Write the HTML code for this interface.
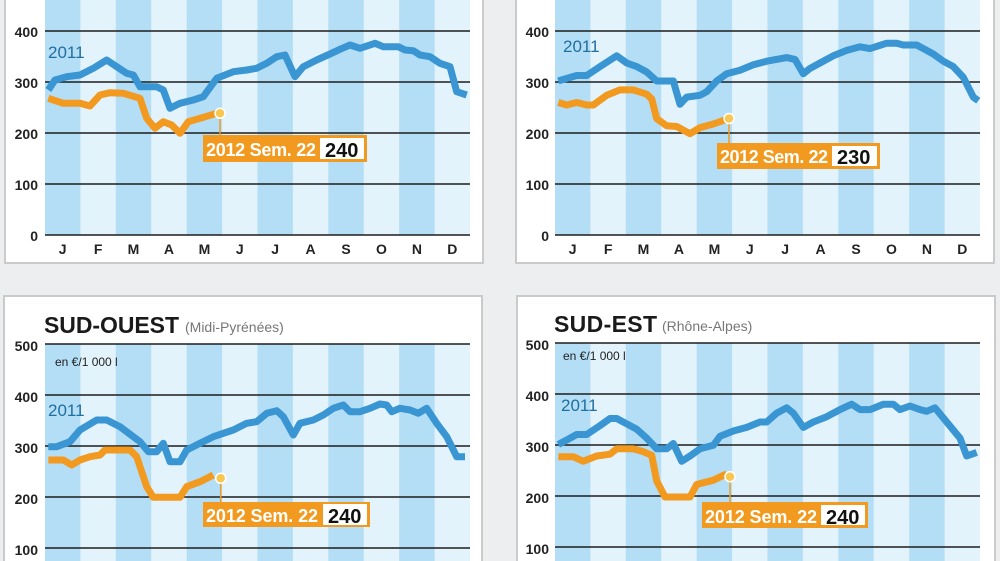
<!DOCTYPE html>
<html><head><meta charset="utf-8"><style>
html,body{margin:0;padding:0;width:1000px;height:561px;overflow:hidden;background:#edeef0;}
svg{display:block;font-family:"Liberation Sans",sans-serif;}
.tk{font-size:14px;font-weight:bold;fill:#222;text-anchor:end}
.mo{font-size:14px;font-weight:bold;fill:#222;text-anchor:middle}
.bl{fill:none;stroke:#3a95d3;stroke-width:7;stroke-linejoin:round}
.or{fill:none;stroke:#f29a1f;stroke-width:7;stroke-linejoin:round}
.g{stroke:#1d1d1d;stroke-width:1.6}
.lb{font-family:"Liberation Sans Narrow","Liberation Sans",sans-serif;font-weight:bold}
</style></head><body>
<svg width="1000" height="561" viewBox="0 0 1000 561">
<defs>
<g id="bands">
<rect x="0" y="0" width="425" height="600" fill="#e2f3fc"/>
<rect x="0" y="0" width="35.4" height="600" fill="#b4def5"/>
<rect x="70.8" y="0" width="35.4" height="600" fill="#b4def5"/>
<rect x="141.7" y="0" width="35.4" height="600" fill="#b4def5"/>
<rect x="212.5" y="0" width="35.4" height="600" fill="#b4def5"/>
<rect x="283.3" y="0" width="35.4" height="600" fill="#b4def5"/>
<rect x="354.2" y="0" width="35.4" height="600" fill="#b4def5"/>
</g>
<g id="months">
<text class="mo" x="62.7">J</text><text class="mo" x="98.1">F</text><text class="mo" x="133.5">M</text><text class="mo" x="168.9">A</text><text class="mo" x="204.4">M</text><text class="mo" x="239.8">J</text><text class="mo" x="275.2">J</text><text class="mo" x="310.6">A</text><text class="mo" x="346">S</text><text class="mo" x="381.5">O</text><text class="mo" x="416.9">N</text><text class="mo" x="452.3">D</text>
</g>
</defs>
<rect x="5" y="-10" width="478" height="273" fill="#fff" stroke="#c9cacc" stroke-width="2"/>
<rect x="516" y="-10" width="478" height="273" fill="#fff" stroke="#c9cacc" stroke-width="2"/>
<rect x="4" y="296" width="478" height="280" fill="#fff" stroke="#c9cacc" stroke-width="2"/>
<rect x="517" y="296" width="478" height="280" fill="#fff" stroke="#c9cacc" stroke-width="2"/>

<!-- TOP LEFT -->
<g transform="translate(45,0)"><svg width="425" height="235"><use href="#bands"/></svg></g>
<g class="g"><line x1="45" x2="470" y1="31" y2="31"/><line x1="45" x2="470" y1="82" y2="82"/><line x1="45" x2="470" y1="133" y2="133"/><line x1="45" x2="470" y1="184" y2="184"/><line x1="45" x2="470" y1="235" y2="235"/></g>
<text class="tk" x="38" y="37">400</text><text class="tk" x="38" y="88">300</text><text class="tk" x="38" y="139">200</text><text class="tk" x="38" y="190">100</text><text class="tk" x="38" y="241">0</text>
<g transform="translate(0,254)"><use href="#months"/></g>
<text x="48" y="58" font-size="17" fill="#1f6fa0">2011</text>
<polyline class="bl" points="48.3,90 55,80 66.7,76.7 80,75 93.3,68.3 106.7,60 116.7,66.7 126.7,73.3 133.3,75 140,86.7 156.7,86.7 163.3,90 170,108.3 180,103.3 193.3,100 203.3,96.7 216.7,78.3 233.3,71.7 246.7,70 256.7,68.3 266.7,63.3 276.7,56.7 285,55 295,76.7 303.3,66.7 316.7,60 330,54 340,49.3 350,45 360,48.3 375,43.3 383.3,46.7 398.3,46.7 405,50 413.3,50.7 420,55 430,56.7 440,63.3 450,66.7 456.7,91.7 466.7,95"/>
<polyline class="or" points="48.3,98.3 63.3,103.3 80,103.3 90,106 100,95 110,92.7 123.3,93.3 140,98.3 146.7,118.3 155,128.3 163.3,121.7 171.7,125 180,133.3 188.3,121.7 200,118.3 216.7,113.3"/>
<line x1="220" y1="113" x2="220" y2="136" stroke="#f29a1f" stroke-width="1.5"/>
<circle cx="220" cy="113.3" r="5" fill="#f9c74f" stroke="#fff" stroke-width="1.5"/>
<rect x="203" y="135" width="164" height="27" fill="#f29a1f"/><rect x="320" y="138" width="44" height="21" fill="#fff"/>
<text class="lb" x="206" y="156" font-size="18" fill="#fff" textLength="110">2012 Sem. 22</text><text class="lb" x="325" y="157" font-size="20" fill="#111">240</text>

<!-- TOP RIGHT -->
<g transform="translate(555,0)"><svg width="425" height="235"><use href="#bands"/></svg></g>
<g class="g"><line x1="555" x2="980" y1="31" y2="31"/><line x1="555" x2="980" y1="82" y2="82"/><line x1="555" x2="980" y1="133" y2="133"/><line x1="555" x2="980" y1="184" y2="184"/><line x1="555" x2="980" y1="235" y2="235"/></g>
<text class="tk" x="549" y="37">400</text><text class="tk" x="549" y="88">300</text><text class="tk" x="549" y="139">200</text><text class="tk" x="549" y="190">100</text><text class="tk" x="549" y="241">0</text>
<g transform="translate(510,254)"><use href="#months"/></g>
<text x="563" y="52" font-size="17" fill="#1f6fa0">2011</text>
<polyline class="bl" points="558.3,80.9 576.7,75.5 586.7,75.5 600,66.6 616.7,55.8 626.7,63 636.7,66.6 646.7,72 656.7,81 673.3,81 680,104.3 686.7,97.1 700,95.3 706.7,91.7 716.7,81 726.7,73.7 740,70.2 753.3,64.8 766.7,61.2 786.7,57.6 795,59.4 803.3,73.7 810,68.4 820,63 833.3,55.8 846.7,50.4 860,46.8 870,48.6 886.7,43.2 896.7,43.2 903.3,45 916.7,45 923.3,48.6 933.3,54 943.3,61.2 953.3,66.6 963.3,77.3 973.3,97.1 978.3,100.7"/>
<polyline class="or" points="558.3,102.5 566.7,105 576.7,102.5 586.7,105 593.3,105 606.7,95.3 620,89.9 633.3,89.9 646.7,94.2 651.7,98.9 656.7,118.6 666.7,125.8 676.7,126.5 690,133.7 700,127.6 713.3,124 726.7,119.3"/>
<line x1="729" y1="118" x2="729" y2="144" stroke="#f29a1f" stroke-width="1.5"/>
<circle cx="729" cy="118.5" r="5" fill="#f9c74f" stroke="#fff" stroke-width="1.5"/>
<rect x="717" y="143" width="163" height="26" fill="#f29a1f"/><rect x="832" y="146" width="45" height="20" fill="#fff"/>
<text class="lb" x="720" y="163" font-size="18" fill="#fff" textLength="108">2012 Sem. 22</text><text class="lb" x="837" y="164" font-size="20" fill="#111">230</text>

<!-- BOTTOM LEFT -->
<g transform="translate(45,344)"><svg width="425" height="220"><use href="#bands"/></svg></g>
<g class="g"><line x1="45" x2="470" y1="344" y2="344"/><line x1="45" x2="470" y1="395" y2="395"/><line x1="45" x2="470" y1="446" y2="446"/><line x1="45" x2="470" y1="497" y2="497"/><line x1="45" x2="470" y1="548" y2="548"/></g>
<text class="tk" x="38" y="351">500</text><text class="tk" x="38" y="402">400</text><text class="tk" x="38" y="453">300</text><text class="tk" x="38" y="504">200</text><text class="tk" x="38" y="555">100</text>
<text x="44" y="333" font-size="23" font-weight="bold" fill="#1a1a1a" textLength="135">SUD-OUEST</text>
<text x="185" y="332" font-size="14" fill="#777">(Midi-Pyrénées)</text>
<text x="55" y="366" font-size="12" fill="#222">en €/1 000 l</text>
<text x="48" y="416" font-size="17" fill="#1f6fa0">2011</text>
<polyline class="bl" points="48.3,446.7 56.7,446.7 70,441.7 80,430 96.7,420 106.7,420 120,426.7 133.3,436.7 140,441.7 148.3,451.7 156.7,451.7 163.3,443.3 170,461.7 180,461.7 186.7,450 200,443.3 213.3,436.7 233.3,430 246.7,423.3 256.7,421.7 266.7,413.3 276.7,410.7 283.3,416.7 293.3,435 300,423.3 313.3,420 323.3,415 333.3,408.3 343.3,405 350,411.7 360,411.7 370,408.3 380,404 386.7,405 391.7,411.7 400,408.3 410,410 418.3,413.3 426.7,408.3 436.7,423.3 446.7,436.7 456.7,456.7 465,456.7"/>
<polyline class="or" points="48.3,460 63.3,460 71.7,465 80,460 90,456.7 100,455 105,450 130,450 136.7,456.7 146.7,486.7 153.3,497.3 180,497.3 186.7,486.7 200,481.7 213.3,475"/>
<line x1="220.7" y1="478" x2="220.7" y2="503" stroke="#f29a1f" stroke-width="1.5"/>
<circle cx="220.7" cy="478.3" r="5" fill="#f9c74f" stroke="#fff" stroke-width="1.5"/>
<rect x="203" y="502" width="167" height="25" fill="#f29a1f"/><rect x="323" y="504" width="44" height="21" fill="#fff"/>
<text class="lb" x="206" y="522" font-size="18" fill="#fff" textLength="112">2012 Sem. 22</text><text class="lb" x="328" y="523" font-size="20" fill="#111">240</text>

<!-- BOTTOM RIGHT -->
<g transform="translate(555,343)"><svg width="425" height="220"><use href="#bands"/></svg></g>
<g class="g"><line x1="555" x2="980" y1="343" y2="343"/><line x1="555" x2="980" y1="394" y2="394"/><line x1="555" x2="980" y1="445" y2="445"/><line x1="555" x2="980" y1="496" y2="496"/><line x1="555" x2="980" y1="547" y2="547"/></g>
<text class="tk" x="549" y="350">500</text><text class="tk" x="549" y="401">400</text><text class="tk" x="549" y="452">300</text><text class="tk" x="549" y="503">200</text><text class="tk" x="549" y="554">100</text>
<text x="554" y="332" font-size="23" font-weight="bold" fill="#1a1a1a" textLength="103">SUD-EST</text>
<text x="662" y="331" font-size="14" fill="#777">(Rhône-Alpes)</text>
<text x="563" y="360" font-size="12" fill="#222">en €/1 000 l</text>
<text x="561" y="411" font-size="17" fill="#1f6fa0">2011</text>
<polyline class="bl" points="558.3,444.5 566.7,440 576.7,434.5 586.7,434.5 600,425.6 610,418.5 616.7,418.5 626.7,423.8 636.7,429.2 646.7,438.1 656.7,448.8 666.7,448.8 673.3,443.5 681.7,461.3 690,456 700,448.8 713.3,445.3 720,436.3 733.3,431 746.7,427.4 760,422 766.7,422 776.7,413.1 786.7,407.8 793.3,413.1 803.3,427.4 813.3,422 826.7,416.7 840,409.6 851.7,404.2 860,409.6 870,409.6 883.3,404.2 893.3,404.2 900,409.6 910,406 920,409.6 926.7,411.3 935,407.8 946.7,422 960,438.1 966.7,456 976.7,452.4"/>
<polyline class="or" points="558.3,456.7 573.3,456.7 583.3,461.3 596.7,456 610,454.2 616.7,448.8 633.3,448.8 643.3,451.7 651.7,455.3 656.7,481 665,497 690,497 696.7,484.5 713.3,480.2 726.7,473.8"/>
<line x1="730" y1="476" x2="730" y2="503" stroke="#f29a1f" stroke-width="1.5"/>
<circle cx="730" cy="476.7" r="5" fill="#f9c74f" stroke="#fff" stroke-width="1.5"/>
<rect x="702" y="502" width="166" height="26" fill="#f29a1f"/><rect x="821" y="505" width="44" height="20" fill="#fff"/>
<text class="lb" x="705" y="523" font-size="18" fill="#fff" textLength="112">2012 Sem. 22</text><text class="lb" x="826" y="524" font-size="20" fill="#111">240</text>
</svg>
</body></html>
